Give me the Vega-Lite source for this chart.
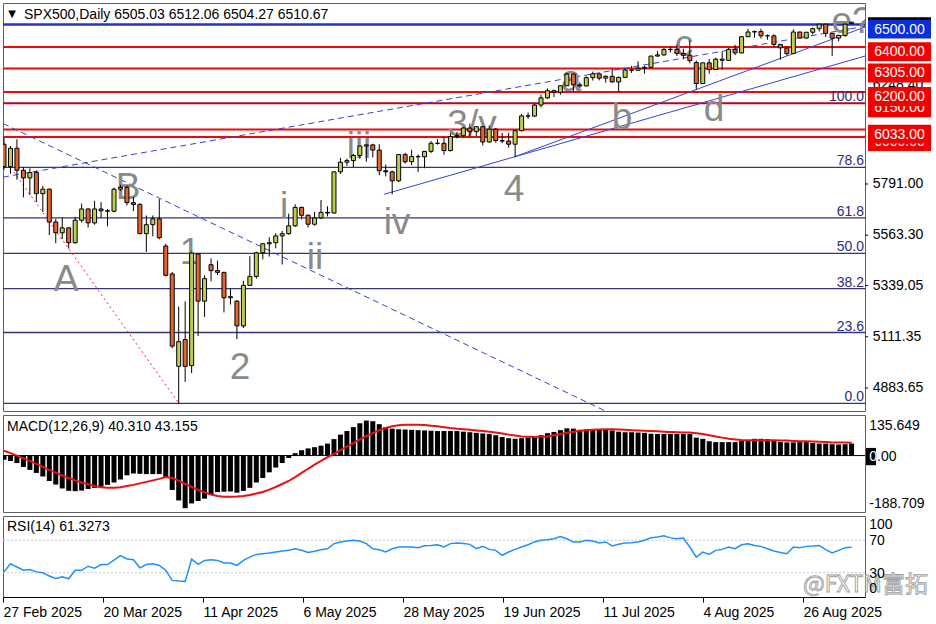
{
"$schema":"https://vega.github.io/schema/vega-lite/v6.json",
"background":"#ffffff",
"padding":{"left":1,"top":2,"right":2,"bottom":2},
"spacing":4,
"bounds":"flush",
"config":{
 "view":{"stroke":"#606060","strokeWidth":1},
 "axis":{"labelFont":"Liberation Sans","labelFontSize":14,"labelColor":"#000000","domainColor":"#000000","tickColor":"#000000","grid":false},
 "text":{"font":"Liberation Sans","fontSize":14,"color":"#000000"}
},
"datasets":{
 "bars":[
{"i":0,"o":5968,"h":5995,"l":5855,"c":5868,"m":-14,"s":16,"r":31},
{"i":1,"o":5868,"h":5960,"l":5837,"c":5950,"m":-18,"s":8,"r":41},
{"i":2,"o":5950,"h":5990,"l":5810,"c":5852,"m":-25,"s":0,"r":37},
{"i":3,"o":5852,"h":5866,"l":5732,"c":5818,"m":-38,"s":-9,"r":33},
{"i":4,"o":5818,"h":5861,"l":5742,"c":5842,"m":-48,"s":-18,"r":34},
{"i":5,"o":5842,"h":5850,"l":5711,"c":5748,"m":-58,"s":-28,"r":31},
{"i":6,"o":5748,"h":5783,"l":5666,"c":5768,"m":-70,"s":-38,"r":30},
{"i":7,"o":5768,"h":5770,"l":5564,"c":5622,"m":-85,"s":-48,"r":26},
{"i":8,"o":5622,"h":5636,"l":5528,"c":5574,"m":-97,"s":-57,"r":23},
{"i":9,"o":5574,"h":5642,"l":5546,"c":5596,"m":-110,"s":-66,"r":25},
{"i":10,"o":5596,"h":5598,"l":5504,"c":5530,"m":-118,"s":-75,"r":22.5},
{"i":11,"o":5530,"h":5645,"l":5525,"c":5630,"m":-119,"s":-83,"r":33},
{"i":12,"o":5630,"h":5704,"l":5620,"c":5680,"m":-117,"s":-90,"r":33},
{"i":13,"o":5680,"h":5682,"l":5597,"c":5618,"m":-112,"s":-96,"r":38},
{"i":14,"o":5618,"h":5716,"l":5610,"c":5680,"m":-108,"s":-102,"r":35.6},
{"i":15,"o":5680,"h":5711,"l":5640,"c":5672,"m":-104,"s":-106,"r":40},
{"i":16,"o":5672,"h":5680,"l":5603,"c":5670,"m":-98,"s":-108,"r":40},
{"i":17,"o":5670,"h":5775,"l":5665,"c":5768,"m":-90,"s":-108,"r":45.5},
{"i":18,"o":5768,"h":5787,"l":5760,"c":5776,"m":-80,"s":-106,"r":51},
{"i":19,"o":5776,"h":5784,"l":5695,"c":5708,"m":-66,"s":-102,"r":47},
{"i":20,"o":5708,"h":5733,"l":5671,"c":5700,"m":-60,"s":-98,"r":46},
{"i":21,"o":5700,"h":5706,"l":5568,"c":5570,"m":-61,"s":-93,"r":36},
{"i":22,"o":5570,"h":5651,"l":5489,"c":5610,"m":-62,"s":-88,"r":40},
{"i":23,"o":5610,"h":5651,"l":5558,"c":5636,"m":-62,"s":-83,"r":41},
{"i":24,"o":5636,"h":5724,"l":5545,"c":5552,"m":-62,"s":-78,"r":39},
{"i":25,"o":5515,"h":5525,"l":5380,"c":5385,"m":-75,"s":-72,"r":33},
{"i":26,"o":5391,"h":5400,"l":5060,"c":5070,"m":-115,"s":-75,"r":20.5},
{"i":27,"o":4980,"h":5246,"l":4812,"c":5090,"m":-150,"s":-84,"r":19.7},
{"i":28,"o":5099,"h":5269,"l":4911,"c":4980,"m":-176,"s":-95,"r":19.3},
{"i":29,"o":4983,"h":5490,"l":4950,"c":5484,"m":-160,"s":-105,"r":46.8},
{"i":30,"o":5480,"h":5484,"l":5115,"c":5270,"m":-152,"s":-115,"r":40.3},
{"i":31,"o":5270,"h":5385,"l":5200,"c":5370,"m":-144,"s":-123,"r":45.2},
{"i":32,"o":5432,"h":5460,"l":5358,"c":5406,"m":-132,"s":-130,"r":46},
{"i":33,"o":5406,"h":5450,"l":5386,"c":5398,"m":-122,"s":-135,"r":45.2},
{"i":34,"o":5398,"h":5400,"l":5220,"c":5285,"m":-121,"s":-138,"r":42},
{"i":35,"o":5285,"h":5328,"l":5255,"c":5290,"m":-120,"s":-138,"r":42},
{"i":36,"o":5270,"h":5275,"l":5101,"c":5160,"m":-124,"s":-137,"r":39},
{"i":37,"o":5160,"h":5360,"l":5150,"c":5340,"m":-118,"s":-135,"r":45.2},
{"i":38,"o":5340,"h":5470,"l":5340,"c":5380,"m":-108,"s":-132,"r":49.3},
{"i":39,"o":5380,"h":5490,"l":5370,"c":5485,"m":-90,"s":-127,"r":52.6},
{"i":40,"o":5485,"h":5528,"l":5456,"c":5525,"m":-75,"s":-122,"r":53.5},
{"i":41,"o":5525,"h":5554,"l":5468,"c":5530,"m":-56,"s":-114,"r":54.3},
{"i":42,"o":5530,"h":5572,"l":5505,"c":5560,"m":-40,"s":-105,"r":55.6},
{"i":43,"o":5560,"h":5582,"l":5433,"c":5570,"m":-25,"s":-95,"r":56.9},
{"i":44,"o":5570,"h":5659,"l":5565,"c":5605,"m":-8,"s":-85,"r":57.6},
{"i":45,"o":5605,"h":5701,"l":5600,"c":5687,"m":8,"s":-72,"r":59.6},
{"i":46,"o":5687,"h":5690,"l":5634,"c":5652,"m":18,"s":-58,"r":57.6},
{"i":47,"o":5652,"h":5655,"l":5598,"c":5612,"m":24,"s":-44,"r":55.1},
{"i":48,"o":5612,"h":5667,"l":5605,"c":5640,"m":28,"s":-30,"r":56.4},
{"i":49,"o":5640,"h":5720,"l":5635,"c":5665,"m":33,"s":-18,"r":58.4},
{"i":50,"o":5665,"h":5692,"l":5647,"c":5662,"m":40,"s":-5,"r":59.6},
{"i":51,"o":5662,"h":5845,"l":5660,"c":5845,"m":55,"s":6,"r":65.9},
{"i":52,"o":5845,"h":5907,"l":5836,"c":5888,"m":70,"s":18,"r":68},
{"i":53,"o":5888,"h":5904,"l":5872,"c":5895,"m":82,"s":30,"r":69.2},
{"i":54,"o":5895,"h":5925,"l":5867,"c":5918,"m":95,"s":42,"r":70},
{"i":55,"o":5918,"h":5959,"l":5903,"c":5960,"m":108,"s":54,"r":69.2},
{"i":56,"o":5960,"h":5969,"l":5890,"c":5965,"m":117,"s":65,"r":65.9},
{"i":57,"o":5965,"h":5970,"l":5909,"c":5942,"m":115,"s":75,"r":59.6},
{"i":58,"o":5942,"h":5968,"l":5830,"c":5850,"m":105,"s":85,"r":58.4},
{"i":59,"o":5850,"h":5878,"l":5825,"c":5845,"m":95,"s":92,"r":55.6},
{"i":60,"o":5845,"h":5850,"l":5745,"c":5805,"m":90,"s":98,"r":59.6},
{"i":61,"o":5805,"h":5924,"l":5800,"c":5922,"m":88,"s":101,"r":61.7},
{"i":62,"o":5922,"h":5930,"l":5882,"c":5890,"m":87,"s":103,"r":61.7},
{"i":63,"o":5890,"h":5943,"l":5874,"c":5913,"m":86,"s":103,"r":61.7},
{"i":64,"o":5913,"h":5922,"l":5844,"c":5912,"m":85,"s":103,"r":60.9},
{"i":65,"o":5912,"h":5938,"l":5861,"c":5936,"m":84,"s":102,"r":63.3},
{"i":66,"o":5936,"h":5982,"l":5929,"c":5972,"m":83,"s":100,"r":63.7},
{"i":67,"o":5972,"h":5991,"l":5966,"c":5972,"m":82,"s":98,"r":64.5},
{"i":68,"o":5972,"h":6000,"l":5921,"c":5940,"m":82,"s":95,"r":61.7},
{"i":69,"o":5940,"h":6017,"l":5935,"c":6002,"m":82,"s":92,"r":65.9},
{"i":70,"o":6002,"h":6022,"l":5994,"c":6006,"m":82,"s":90,"r":66.6},
{"i":71,"o":6006,"h":6044,"l":6000,"c":6040,"m":80,"s":88,"r":66},
{"i":72,"o":6040,"h":6060,"l":6002,"c":6024,"m":78,"s":86,"r":65},
{"i":73,"o":6024,"h":6046,"l":6004,"c":6046,"m":76,"s":84,"r":59.6},
{"i":74,"o":6046,"h":6047,"l":5963,"c":5978,"m":74,"s":82,"r":62.5},
{"i":75,"o":5978,"h":6051,"l":5975,"c":6035,"m":72,"s":80,"r":58.8},
{"i":76,"o":6035,"h":6040,"l":5975,"c":5984,"m":68,"s":77,"r":57.6},
{"i":77,"o":5984,"h":6018,"l":5972,"c":5982,"m":62,"s":74,"r":51.5},
{"i":78,"o":5982,"h":6019,"l":5953,"c":5968,"m":58,"s":70,"r":55.5},
{"i":79,"o":5968,"h":6030,"l":5911,"c":6028,"m":56,"s":67,"r":58.8},
{"i":80,"o":6028,"h":6102,"l":6025,"c":6094,"m":58,"s":64,"r":61.7},
{"i":81,"o":6094,"h":6109,"l":6081,"c":6093,"m":60,"s":63,"r":64.5},
{"i":82,"o":6093,"h":6147,"l":6090,"c":6142,"m":62,"s":62,"r":68},
{"i":83,"o":6142,"h":6188,"l":6132,"c":6174,"m":68,"s":63,"r":70},
{"i":84,"o":6174,"h":6216,"l":6170,"c":6206,"m":75,"s":64,"r":70.8},
{"i":85,"o":6206,"h":6211,"l":6178,"c":6199,"m":79,"s":68,"r":72},
{"i":86,"o":6199,"h":6228,"l":6188,"c":6228,"m":85,"s":72,"r":74.7},
{"i":87,"o":6228,"h":6285,"l":6228,"c":6280,"m":91,"s":76,"r":72},
{"i":88,"o":6280,"h":6282,"l":6201,"c":6232,"m":90,"s":80,"r":68},
{"i":89,"o":6232,"h":6243,"l":6218,"c":6227,"m":86,"s":83,"r":68},
{"i":90,"o":6227,"h":6270,"l":6226,"c":6264,"m":88,"s":85,"r":70},
{"i":91,"o":6264,"h":6291,"l":6251,"c":6281,"m":88,"s":86,"r":69},
{"i":92,"o":6281,"h":6282,"l":6252,"c":6262,"m":88,"s":87,"r":66.6},
{"i":93,"o":6262,"h":6274,"l":6242,"c":6270,"m":87,"s":88,"r":68},
{"i":94,"o":6270,"h":6303,"l":6242,"c":6245,"m":84,"s":88,"r":63},
{"i":95,"o":6245,"h":6269,"l":6202,"c":6265,"m":80,"s":87,"r":65},
{"i":96,"o":6265,"h":6305,"l":6262,"c":6298,"m":78,"s":86,"r":66.6},
{"i":97,"o":6298,"h":6316,"l":6285,"c":6297,"m":78,"s":85,"r":67},
{"i":98,"o":6297,"h":6337,"l":6295,"c":6306,"m":77,"s":84,"r":68},
{"i":99,"o":6306,"h":6317,"l":6282,"c":6310,"m":76,"s":83,"r":70},
{"i":100,"o":6310,"h":6361,"l":6308,"c":6360,"m":73,"s":82,"r":73.2},
{"i":101,"o":6360,"h":6382,"l":6358,"c":6365,"m":72,"s":81,"r":74},
{"i":102,"o":6365,"h":6396,"l":6362,"c":6389,"m":72,"s":80,"r":75.6},
{"i":103,"o":6389,"h":6402,"l":6376,"c":6390,"m":72,"s":79,"r":73},
{"i":104,"o":6390,"h":6410,"l":6360,"c":6372,"m":72,"s":78,"r":72},
{"i":105,"o":6372,"h":6393,"l":6346,"c":6364,"m":72,"s":77,"r":72.8},
{"i":106,"o":6364,"h":6428,"l":6328,"c":6340,"m":72,"s":77,"r":61.7},
{"i":107,"o":6331,"h":6340,"l":6212,"c":6238,"m":60,"s":75,"r":49.3},
{"i":108,"o":6238,"h":6330,"l":6235,"c":6330,"m":56,"s":72,"r":55.5},
{"i":109,"o":6330,"h":6347,"l":6282,"c":6300,"m":48,"s":68,"r":52.6},
{"i":110,"o":6300,"h":6353,"l":6298,"c":6346,"m":45,"s":64,"r":57.6},
{"i":111,"o":6346,"h":6380,"l":6300,"c":6341,"m":45,"s":60,"r":58.8},
{"i":112,"o":6341,"h":6396,"l":6340,"c":6390,"m":45,"s":56,"r":61.7},
{"i":113,"o":6390,"h":6410,"l":6364,"c":6374,"m":45,"s":54,"r":59.6},
{"i":114,"o":6374,"h":6447,"l":6372,"c":6446,"m":50,"s":52,"r":64.5},
{"i":115,"o":6446,"h":6481,"l":6445,"c":6467,"m":52,"s":51,"r":65.8},
{"i":116,"o":6467,"h":6474,"l":6441,"c":6469,"m":56,"s":51,"r":63.7},
{"i":117,"o":6469,"h":6482,"l":6438,"c":6450,"m":56,"s":51,"r":62.5},
{"i":118,"o":6450,"h":6457,"l":6433,"c":6450,"m":55,"s":51,"r":59.6},
{"i":119,"o":6450,"h":6457,"l":6400,"c":6412,"m":50,"s":51,"r":56.9},
{"i":120,"o":6412,"h":6413,"l":6344,"c":6396,"m":45,"s":50,"r":55},
{"i":121,"o":6396,"h":6398,"l":6361,"c":6371,"m":44,"s":50,"r":53.5},
{"i":122,"o":6371,"h":6479,"l":6370,"c":6467,"m":44,"s":49,"r":61.7},
{"i":123,"o":6467,"h":6468,"l":6438,"c":6440,"m":45,"s":48,"r":60.9},
{"i":124,"o":6440,"h":6467,"l":6437,"c":6466,"m":45,"s":48,"r":62.5},
{"i":125,"o":6466,"h":6487,"l":6456,"c":6482,"m":42,"s":47,"r":63},
{"i":126,"o":6482,"h":6502,"l":6470,"c":6502,"m":40,"s":46,"r":63.7},
{"i":127,"o":6502,"h":6503,"l":6445,"c":6461,"m":40,"s":45,"r":58.4},
{"i":128,"o":6461,"h":6462,"l":6361,"c":6440,"m":38,"s":44,"r":54.3},
{"i":129,"o":6440,"h":6455,"l":6426,"c":6452,"m":37,"s":44,"r":57.6},
{"i":130,"o":6452,"h":6503,"l":6445,"c":6502,"m":38,"s":43.5,"r":60.9},
{"i":131,"o":6505.03,"h":6512.06,"l":6504.27,"c":6510.67,"m":40.31,"s":43.155,"r":61.3273}
 ],
 "fib":[{"t":"100.0","p":6150},{"t":"78.6","p":5864.5},{"t":"61.8","p":5640.3},{"t":"50.0","p":5482.8},{"t":"38.2","p":5325.3},{"t":"23.6","p":5130.5},{"t":"0.0","p":4815.6}],
 "red":[{"p":6400},{"p":6305},{"p":6200},{"p":6150},{"p":6033},{"p":6000}],
 "blue":[{"p":6500}],
 "ticks":[{"t":"5791.00","p":5791},{"t":"5563.30","p":5563.3},{"t":"5339.05","p":5339.05},{"t":"5111.35","p":5111.35},{"t":"4883.65","p":4883.65}],
 "dash":[{"id":"down","i":-0.155,"p":6060},{"id":"down","i":92.95,"p":4781.35},{"id":"up","i":-0.155,"p":5821.5},{"id":"up","i":133.076,"p":6492.4}],
 "solid":[{"id":"L1","i":58.73,"p":5745},{"id":"L1","i":133.076,"p":6360},{"id":"L2","i":78.83,"p":5911},{"id":"L2","i":133.076,"p":6489}],
 "dot":[{"id":"r","i":1.55,"p":5844},{"id":"r","i":26.89,"p":4821}],
 "waves":[{"t":"A","i":9.58,"p":5315},{"t":"B","i":19.17,"p":5724},{"t":"1","i":28.75,"p":5435},{"t":"2","i":36.48,"p":4924},{"t":"i","i":43.28,"p":5640},{"t":"ii","i":48.07,"p":5413},{"t":"iii","i":54.87,"p":5907},{"t":"iv","i":60.74,"p":5569},{"t":"3/v","i":72.33,"p":6005},{"t":"4","i":78.83,"p":5715},{"t":"a","i":87.64,"p":6205},{"t":"b","i":95.52,"p":6036},{"t":"c","i":105.1,"p":6360},{"t":"d","i":109.74,"p":6071},{"t":"e?","i":131.07,"p":6463}],
 "boxA":[{"t":"6000.00","p":6000,"k":"level"},{"t":"6150.00","p":6150,"k":"level"},{"t":"6510.67","p":6510.67,"k":"bid"}],
 "plainA":[{"t":"6248.40","p":6248.4}],
 "boxB":[{"t":"6033.00","p":6033,"k":"level"},{"t":"6200.00","p":6200,"k":"level"},{"t":"6305.00","p":6305,"k":"level"},{"t":"6400.00","p":6400,"k":"level"},{"t":"6500.00","p":6500,"k":"key"}]
},
"vconcat":[
{
 "width":862,"height":408,
 "layer":[
  {"data":{"name":"red"},"mark":{"type":"rule","color":"#ee0a0a","strokeWidth":2},
   "encoding":{"y":{"field":"p","type":"quantitative","scale":{"domain":[4781.35,6596.05],"nice":false,"zero":false,"padding":0},"axis":null}}},
  {"data":{"name":"fib"},"mark":{"type":"rule","color":"#35357d","strokeWidth":1.3},
   "encoding":{"y":{"field":"p","type":"quantitative","scale":{"domain":[4781.35,6596.05],"nice":false,"zero":false,"padding":0},"axis":null}}},
  {"data":{"name":"blue"},"mark":{"type":"rule","color":"#1f35c8","strokeWidth":2.5},
   "encoding":{"y":{"field":"p","type":"quantitative","scale":{"domain":[4781.35,6596.05],"nice":false,"zero":false,"padding":0},"axis":null}}},
  {"data":{"name":"dash"},"mark":{"type":"line","color":"#3344d0","strokeWidth":1,"strokeDash":[6,4],"clip":true},
   "encoding":{"x":{"field":"i","type":"quantitative","scale":{"domain":[-0.155,133.076],"nice":false,"zero":false,"padding":0},"axis":null},
     "y":{"field":"p","type":"quantitative","scale":{"domain":[4781.35,6596.05],"nice":false,"zero":false,"padding":0},"axis":null},"detail":{"field":"id"}}},
  {"data":{"name":"solid"},"mark":{"type":"line","color":"#3344d8","strokeWidth":1,"clip":true},
   "encoding":{"x":{"field":"i","type":"quantitative","scale":{"domain":[-0.155,133.076],"nice":false,"zero":false,"padding":0},"axis":null},
     "y":{"field":"p","type":"quantitative","scale":{"domain":[4781.35,6596.05],"nice":false,"zero":false,"padding":0},"axis":null},"detail":{"field":"id"}}},
  {"data":{"name":"dot"},"mark":{"type":"line","color":"#ff2020","strokeWidth":1,"strokeDash":[2,3],"clip":true},
   "encoding":{"x":{"field":"i","type":"quantitative","scale":{"domain":[-0.155,133.076],"nice":false,"zero":false,"padding":0},"axis":null},
     "y":{"field":"p","type":"quantitative","scale":{"domain":[4781.35,6596.05],"nice":false,"zero":false,"padding":0},"axis":null},"detail":{"field":"id"}}},
  {"data":{"name":"waves"},"mark":{"type":"text","fontSize":37,"color":"#8a8a8a","align":"center","baseline":"alphabetic","clip":true},
   "encoding":{"x":{"field":"i","type":"quantitative","scale":{"domain":[-0.155,133.076],"nice":false,"zero":false,"padding":0},"axis":null},
     "y":{"field":"p","type":"quantitative","scale":{"domain":[4781.35,6596.05],"nice":false,"zero":false,"padding":0},"axis":null},"text":{"field":"t"}}},
  {"data":{"name":"bars"},"mark":{"type":"rule","color":"#000000","strokeWidth":1,"clip":true},
   "encoding":{"x":{"field":"i","type":"quantitative","scale":{"domain":[-0.155,133.076],"nice":false,"zero":false,"padding":0},"axis":null},
     "y":{"field":"l","type":"quantitative","scale":{"domain":[4781.35,6596.05],"nice":false,"zero":false,"padding":0},"axis":null},"y2":{"field":"h"}}},
  {"data":{"name":"bars"},"mark":{"type":"bar","size":4,"stroke":"#000000","strokeWidth":1,"clip":true},
   "encoding":{"x":{"field":"i","type":"quantitative","scale":{"domain":[-0.155,133.076],"nice":false,"zero":false,"padding":0},"axis":null},
     "y":{"field":"o","type":"quantitative","scale":{"domain":[4781.35,6596.05],"nice":false,"zero":false,"padding":0},"axis":null},"y2":{"field":"c"},
     "fill":{"condition":{"test":"datum.c >= datum.o","value":"#bccf4c"},"value":"#e4652c"}}},
  {"data":{"name":"fib"},"mark":{"type":"text","color":"#2c2c7c","align":"right","baseline":"alphabetic","dy":-2,"clip":true},
   "encoding":{"x":{"datum":132.92,"type":"quantitative","scale":{"domain":[-0.155,133.076],"nice":false,"zero":false,"padding":0},"axis":null},
     "y":{"field":"p","type":"quantitative","scale":{"domain":[4781.35,6596.05],"nice":false,"zero":false,"padding":0},"axis":null},"text":{"field":"t"}}},
  {"data":{"values":[{"t":"SPX500,Daily  6505.03 6512.06 6504.27 6510.67"}]},"mark":{"type":"text","align":"left","baseline":"alphabetic","clip":true},
   "encoding":{"x":{"datum":3.09,"type":"quantitative","scale":{"domain":[-0.155,133.076],"nice":false,"zero":false,"padding":0},"axis":null},
     "y":{"datum":6523.7,"type":"quantitative","scale":{"domain":[4781.35,6596.05],"nice":false,"zero":false,"padding":0},"axis":null},"text":{"field":"t"}}},
  {"data":{"values":[{"t":"▼"}]},"mark":{"type":"text","align":"center","baseline":"middle","fontSize":10,"font":"DejaVu Sans","clip":true},
   "encoding":{"x":{"datum":1.24,"type":"quantitative","scale":{"domain":[-0.155,133.076],"nice":false,"zero":false,"padding":0},"axis":null},
     "y":{"datum":6549,"type":"quantitative","scale":{"domain":[4781.35,6596.05],"nice":false,"zero":false,"padding":0},"axis":null},"text":{"field":"t"}}},
  {"data":{"name":"ticks"},"mark":{"type":"rule","color":"#000000","strokeWidth":1,"clip":false},
   "encoding":{"x":{"datum":133.076,"type":"quantitative","scale":{"domain":[-0.155,133.076],"nice":false,"zero":false,"padding":0},"axis":null},
     "x2":{"datum":133.54},
     "y":{"field":"p","type":"quantitative","scale":{"domain":[4781.35,6596.05],"nice":false,"zero":false,"padding":0},"axis":null}}},
  {"data":{"name":"ticks"},"mark":{"type":"text","align":"left","baseline":"middle","clip":false},
   "encoding":{"x":{"datum":134.27,"type":"quantitative","scale":{"domain":[-0.155,133.076],"nice":false,"zero":false,"padding":0},"axis":null},
     "y":{"field":"p","type":"quantitative","scale":{"domain":[4781.35,6596.05],"nice":false,"zero":false,"padding":0},"axis":null},"text":{"field":"t"}}},
  {"data":{"name":"boxA"},"mark":{"type":"point","shape":"M-1,-0.3H1V0.3H-1Z","size":3969,"filled":true,"opacity":1,"strokeWidth":0,"yOffset":4.5,"clip":false},
   "encoding":{"x":{"datum":138.41,"type":"quantitative","scale":{"domain":[-0.155,133.076],"nice":false,"zero":false,"padding":0},"axis":null},
     "y":{"field":"p","type":"quantitative","scale":{"domain":[4781.35,6596.05],"nice":false,"zero":false,"padding":0},"axis":null},
     "color":{"field":"k","type":"nominal","scale":{"domain":["level","key","bid"],"range":["#f20000","#0b2de0","#000000"]},"legend":null}}},
  {"data":{"name":"boxA"},"mark":{"type":"text","align":"center","baseline":"middle","dy":5,"color":"#ffffff","clip":false},
   "encoding":{"x":{"datum":138.41,"type":"quantitative","scale":{"domain":[-0.155,133.076],"nice":false,"zero":false,"padding":0},"axis":null},
     "y":{"field":"p","type":"quantitative","scale":{"domain":[4781.35,6596.05],"nice":false,"zero":false,"padding":0},"axis":null},"text":{"field":"t"}}},
  {"data":{"name":"plainA"},"mark":{"type":"text","align":"left","baseline":"middle","dy":4,"color":"#000000","clip":false},
   "encoding":{"x":{"datum":134.27,"type":"quantitative","scale":{"domain":[-0.155,133.076],"nice":false,"zero":false,"padding":0},"axis":null},
     "y":{"field":"p","type":"quantitative","scale":{"domain":[4781.35,6596.05],"nice":false,"zero":false,"padding":0},"axis":null},"text":{"field":"t"}}},
  {"data":{"name":"boxB"},"mark":{"type":"point","shape":"M-1,-0.3H1V0.3H-1Z","size":3969,"filled":true,"opacity":1,"strokeWidth":0,"yOffset":4.5,"clip":false},
   "encoding":{"x":{"datum":138.41,"type":"quantitative","scale":{"domain":[-0.155,133.076],"nice":false,"zero":false,"padding":0},"axis":null},
     "y":{"field":"p","type":"quantitative","scale":{"domain":[4781.35,6596.05],"nice":false,"zero":false,"padding":0},"axis":null},
     "color":{"field":"k","type":"nominal","scale":{"domain":["level","key","bid"],"range":["#f20000","#0b2de0","#000000"]},"legend":null}}},
  {"data":{"name":"boxB"},"mark":{"type":"text","align":"center","baseline":"middle","dy":5,"color":"#ffffff","clip":false},
   "encoding":{"x":{"datum":138.41,"type":"quantitative","scale":{"domain":[-0.155,133.076],"nice":false,"zero":false,"padding":0},"axis":null},
     "y":{"field":"p","type":"quantitative","scale":{"domain":[4781.35,6596.05],"nice":false,"zero":false,"padding":0},"axis":null},"text":{"field":"t"}}}
 ]
},
{
 "width":862,"height":97,
 "layer":[
  {"data":{"values":[{"v":0}]},"mark":{"type":"rule","color":"#000000","strokeWidth":1},
   "encoding":{"y":{"field":"v","type":"quantitative","scale":{"domain":[-188.709,135.649],"nice":false,"zero":false,"padding":0},"axis":null}}},
  {"data":{"name":"bars"},"mark":{"type":"bar","size":5,"color":"#000000","clip":true},
   "encoding":{"x":{"field":"i","type":"quantitative","scale":{"domain":[-0.155,133.076],"nice":false,"zero":false,"padding":0},"axis":null},
     "y":{"field":"m","type":"quantitative","scale":{"domain":[-188.709,135.649],"nice":false,"zero":false,"padding":0},"axis":null},"y2":{"datum":0}}},
  {"data":{"name":"bars"},"mark":{"type":"line","color":"#e81010","strokeWidth":2,"clip":true},
   "encoding":{"x":{"field":"i","type":"quantitative","scale":{"domain":[-0.155,133.076],"nice":false,"zero":false,"padding":0},"axis":null},
     "y":{"field":"s","type":"quantitative","scale":{"domain":[-188.709,135.649],"nice":false,"zero":false,"padding":0},"axis":null}}},
  {"data":{"values":[{"t":"MACD(12,26,9) 40.310 43.155"}]},"mark":{"type":"text","align":"left","baseline":"middle","clip":true},
   "encoding":{"x":{"datum":0.464,"type":"quantitative","scale":{"domain":[-0.155,133.076],"nice":false,"zero":false,"padding":0},"axis":null},
     "y":{"datum":95.5,"type":"quantitative","scale":{"domain":[-188.709,135.649],"nice":false,"zero":false,"padding":0},"axis":null},"text":{"field":"t"}}},
  {"data":{"values":[{"t":"135.649","v":135.649}]},"mark":{"type":"text","align":"left","baseline":"middle","dy":11,"clip":false},
   "encoding":{"x":{"datum":133.74,"type":"quantitative","scale":{"domain":[-0.155,133.076],"nice":false,"zero":false,"padding":0},"axis":null},
     "y":{"field":"v","type":"quantitative","scale":{"domain":[-188.709,135.649],"nice":false,"zero":false,"padding":0},"axis":null},"text":{"field":"t"}}},
  {"data":{"values":[{"t":"0.00","v":0}]},"mark":{"type":"text","align":"left","baseline":"middle","dy":1,"clip":false},
   "encoding":{"x":{"datum":133.74,"type":"quantitative","scale":{"domain":[-0.155,133.076],"nice":false,"zero":false,"padding":0},"axis":null},
     "y":{"field":"v","type":"quantitative","scale":{"domain":[-188.709,135.649],"nice":false,"zero":false,"padding":0},"axis":null},"text":{"field":"t"}}},
  {"data":{"values":[{"v":0}]},"mark":{"type":"point","shape":"M-0.578,-1H0.578V1H-0.578Z","size":299,"filled":true,"opacity":1,"color":"#000000","strokeWidth":0,"yOffset":1,"clip":false},
   "encoding":{"x":{"datum":134.0,"type":"quantitative","scale":{"domain":[-0.155,133.076],"nice":false,"zero":false,"padding":0},"axis":null},
     "y":{"field":"v","type":"quantitative","scale":{"domain":[-188.709,135.649],"nice":false,"zero":false,"padding":0},"axis":null}}},
  {"data":{"values":[{"t":"0","v":0}]},"mark":{"type":"text","align":"left","baseline":"middle","dy":1,"color":"#ffffff","clip":false},
   "encoding":{"x":{"datum":133.74,"type":"quantitative","scale":{"domain":[-0.155,133.076],"nice":false,"zero":false,"padding":0},"axis":null},
     "y":{"field":"v","type":"quantitative","scale":{"domain":[-188.709,135.649],"nice":false,"zero":false,"padding":0},"axis":null},"text":{"field":"t"}}},
  {"data":{"values":[{"t":"-188.709","v":-188.709}]},"mark":{"type":"text","align":"left","baseline":"middle","dy":-8,"clip":false},
   "encoding":{"x":{"datum":133.74,"type":"quantitative","scale":{"domain":[-0.155,133.076],"nice":false,"zero":false,"padding":0},"axis":null},
     "y":{"field":"v","type":"quantitative","scale":{"domain":[-188.709,135.649],"nice":false,"zero":false,"padding":0},"axis":null},"text":{"field":"t"}}}
 ]
},
{
 "width":862,"height":81,
 "layer":[
  {"data":{"values":[{"v":70},{"v":30}]},"mark":{"type":"rule","color":"#c4c4c4","strokeWidth":1,"strokeDash":[2,2]},
   "encoding":{"y":{"field":"v","type":"quantitative","scale":{"domain":[0,100],"nice":false,"zero":false,"padding":0},"axis":null}}},
  {"data":{"name":"bars"},"mark":{"type":"line","color":"#1e90ff","strokeWidth":1.5,"clip":true},
   "encoding":{"x":{"field":"i","type":"quantitative","scale":{"domain":[-0.155,133.076],"nice":false,"zero":false,"padding":0},
     "axis":{"orient":"bottom","values":[-0.15,15.3,30.76,46.21,61.67,77.13,92.58,108.04,123.49],
       "labelExpr":"datum.value < 5 ? '27 Feb 2025' : datum.value < 20 ? '20 Mar 2025' : datum.value < 40 ? '11 Apr 2025' : datum.value < 55 ? '6 May 2025' : datum.value < 70 ? '28 May 2025' : datum.value < 85 ? '19 Jun 2025' : datum.value < 100 ? '11 Jul 2025' : datum.value < 115 ? '4 Aug 2025' : '26 Aug 2025'",
       "labelAlign":"left","labelBaseline":"top","tickSize":5,"labelPadding":3,"labelOverlap":false,"labelFlush":false,"labelBound":false,"title":null}},
     "y":{"field":"r","type":"quantitative","scale":{"domain":[0,100],"nice":false,"zero":false,"padding":0},"axis":null}}},
  {"data":{"values":[{"t":"RSI(14) 61.3273"}]},"mark":{"type":"text","align":"left","baseline":"middle","clip":true},
   "encoding":{"x":{"datum":0.464,"type":"quantitative","scale":{"domain":[-0.155,133.076],"nice":false,"zero":false,"padding":0},
     "axis":{"orient":"bottom","values":[-0.15,15.3,30.76,46.21,61.67,77.13,92.58,108.04,123.49],
       "labelExpr":"datum.value < 5 ? '27 Feb 2025' : datum.value < 20 ? '20 Mar 2025' : datum.value < 40 ? '11 Apr 2025' : datum.value < 55 ? '6 May 2025' : datum.value < 70 ? '28 May 2025' : datum.value < 85 ? '19 Jun 2025' : datum.value < 100 ? '11 Jul 2025' : datum.value < 115 ? '4 Aug 2025' : '26 Aug 2025'",
       "labelAlign":"left","labelBaseline":"top","tickSize":5,"labelPadding":3,"labelOverlap":false,"labelFlush":false,"labelBound":false,"title":null}},
     "y":{"datum":86.4,"type":"quantitative","scale":{"domain":[0,100],"nice":false,"zero":false,"padding":0},"axis":null},"text":{"field":"t"}}},
  {"data":{"values":[{"t":"@FXTM富拓"}]},"mark":{"type":"text","align":"left","baseline":"middle","fontSize":23,"font":"Noto Sans CJK SC","fill":"#ffffff","fillOpacity":0.2,"stroke":"#a0a0a0","strokeWidth":0.9,"clip":false},
   "encoding":{"x":{"datum":123.49,"type":"quantitative","scale":{"domain":[-0.155,133.076],"nice":false,"zero":false,"padding":0},
     "axis":{"orient":"bottom","values":[-0.15,15.3,30.76,46.21,61.67,77.13,92.58,108.04,123.49],
       "labelExpr":"datum.value < 5 ? '27 Feb 2025' : datum.value < 20 ? '20 Mar 2025' : datum.value < 40 ? '11 Apr 2025' : datum.value < 55 ? '6 May 2025' : datum.value < 70 ? '28 May 2025' : datum.value < 85 ? '19 Jun 2025' : datum.value < 100 ? '11 Jul 2025' : datum.value < 115 ? '4 Aug 2025' : '26 Aug 2025'",
       "labelAlign":"left","labelBaseline":"top","tickSize":5,"labelPadding":3,"labelOverlap":false,"labelFlush":false,"labelBound":false,"title":null}},
     "y":{"datum":14.8,"type":"quantitative","scale":{"domain":[0,100],"nice":false,"zero":false,"padding":0},"axis":null},"text":{"field":"t"}}},
  {"data":{"values":[{"t":"100","v":100}]},"mark":{"type":"text","align":"left","baseline":"middle","dy":9,"clip":false},
   "encoding":{"x":{"datum":133.74,"type":"quantitative","scale":{"domain":[-0.155,133.076],"nice":false,"zero":false,"padding":0},
     "axis":{"orient":"bottom","values":[-0.15,15.3,30.76,46.21,61.67,77.13,92.58,108.04,123.49],
       "labelExpr":"datum.value < 5 ? '27 Feb 2025' : datum.value < 20 ? '20 Mar 2025' : datum.value < 40 ? '11 Apr 2025' : datum.value < 55 ? '6 May 2025' : datum.value < 70 ? '28 May 2025' : datum.value < 85 ? '19 Jun 2025' : datum.value < 100 ? '11 Jul 2025' : datum.value < 115 ? '4 Aug 2025' : '26 Aug 2025'",
       "labelAlign":"left","labelBaseline":"top","tickSize":5,"labelPadding":3,"labelOverlap":false,"labelFlush":false,"labelBound":false,"title":null}},
     "y":{"field":"v","type":"quantitative","scale":{"domain":[0,100],"nice":false,"zero":false,"padding":0},"axis":null},"text":{"field":"t"}}},
  {"data":{"values":[{"t":"70","v":70},{"t":"30","v":30}]},"mark":{"type":"text","align":"left","baseline":"middle","dy":1,"clip":false},
   "encoding":{"x":{"datum":133.74,"type":"quantitative","scale":{"domain":[-0.155,133.076],"nice":false,"zero":false,"padding":0},
     "axis":{"orient":"bottom","values":[-0.15,15.3,30.76,46.21,61.67,77.13,92.58,108.04,123.49],
       "labelExpr":"datum.value < 5 ? '27 Feb 2025' : datum.value < 20 ? '20 Mar 2025' : datum.value < 40 ? '11 Apr 2025' : datum.value < 55 ? '6 May 2025' : datum.value < 70 ? '28 May 2025' : datum.value < 85 ? '19 Jun 2025' : datum.value < 100 ? '11 Jul 2025' : datum.value < 115 ? '4 Aug 2025' : '26 Aug 2025'",
       "labelAlign":"left","labelBaseline":"top","tickSize":5,"labelPadding":3,"labelOverlap":false,"labelFlush":false,"labelBound":false,"title":null}},
     "y":{"field":"v","type":"quantitative","scale":{"domain":[0,100],"nice":false,"zero":false,"padding":0},"axis":null},"text":{"field":"t"}}},
  {"data":{"values":[{"t":"0","v":0}]},"mark":{"type":"text","align":"left","baseline":"middle","dy":-8,"clip":false},
   "encoding":{"x":{"datum":133.74,"type":"quantitative","scale":{"domain":[-0.155,133.076],"nice":false,"zero":false,"padding":0},
     "axis":{"orient":"bottom","values":[-0.15,15.3,30.76,46.21,61.67,77.13,92.58,108.04,123.49],
       "labelExpr":"datum.value < 5 ? '27 Feb 2025' : datum.value < 20 ? '20 Mar 2025' : datum.value < 40 ? '11 Apr 2025' : datum.value < 55 ? '6 May 2025' : datum.value < 70 ? '28 May 2025' : datum.value < 85 ? '19 Jun 2025' : datum.value < 100 ? '11 Jul 2025' : datum.value < 115 ? '4 Aug 2025' : '26 Aug 2025'",
       "labelAlign":"left","labelBaseline":"top","tickSize":5,"labelPadding":3,"labelOverlap":false,"labelFlush":false,"labelBound":false,"title":null}},
     "y":{"field":"v","type":"quantitative","scale":{"domain":[0,100],"nice":false,"zero":false,"padding":0},"axis":null},"text":{"field":"t"}}}
 ]
}
]
}
